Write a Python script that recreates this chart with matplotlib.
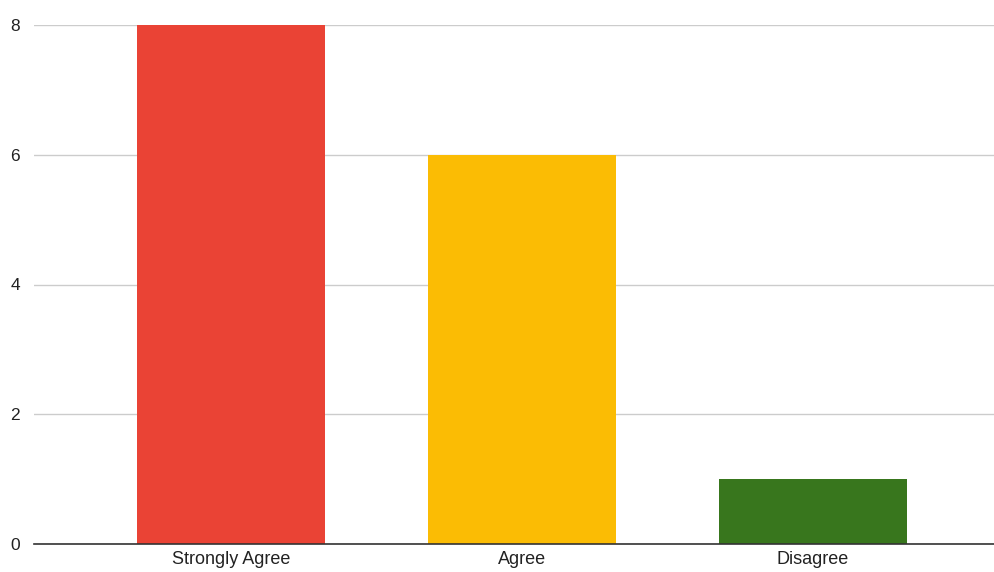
import matplotlib
matplotlib.use("Agg")
import matplotlib.pyplot as plt

categories = ["Strongly Agree", "Agree", "Disagree"]
values = [8, 6, 1]
colors = ["#EA4335", "#FBBC04", "#38761D"]
yticks = [0, 2, 4, 6, 8]

plt.rcParams['font.family'] = ['Liberation Sans', 'DejaVu Sans']

W, H = 995, 572
fig = plt.figure(figsize=(W/100, H/100), dpi=100)
left_px, right_px, top_px, bot_px = 34, 995, 25, 544
ax = fig.add_axes([left_px/W, 1-bot_px/H, (right_px-left_px)/W, (bot_px-top_px)/H])

spacing = 291.0
x0_px = 231.0
xlim_l = -(x0_px-left_px)/spacing
xlim_r = (right_px-x0_px)/spacing
ax.bar(range(len(categories)), values, width=188/spacing, color=colors, zorder=3)
ax.set_xlim(xlim_l, xlim_r)
ax.set_ylim(0, 8)
ax.set_yticks(yticks)
ax.set_xticks(range(len(categories)))
ax.set_xticklabels(categories, fontsize=13, color="#222222")
ax.tick_params(axis='y', labelsize=12.5, labelcolor="#222222", length=0, pad=10)
ax.tick_params(axis='x', length=0, pad=5)
ax.grid(axis='y', color="#CCCCCC", linewidth=1, zorder=0)
for s in ["top", "right", "left"]:
    ax.spines[s].set_visible(False)
ax.spines["bottom"].set_color("#333333")
ax.spines["bottom"].set_linewidth(1.2)
ax.spines["bottom"].set_zorder(4)

fig.savefig("out.png", dpi=100)
